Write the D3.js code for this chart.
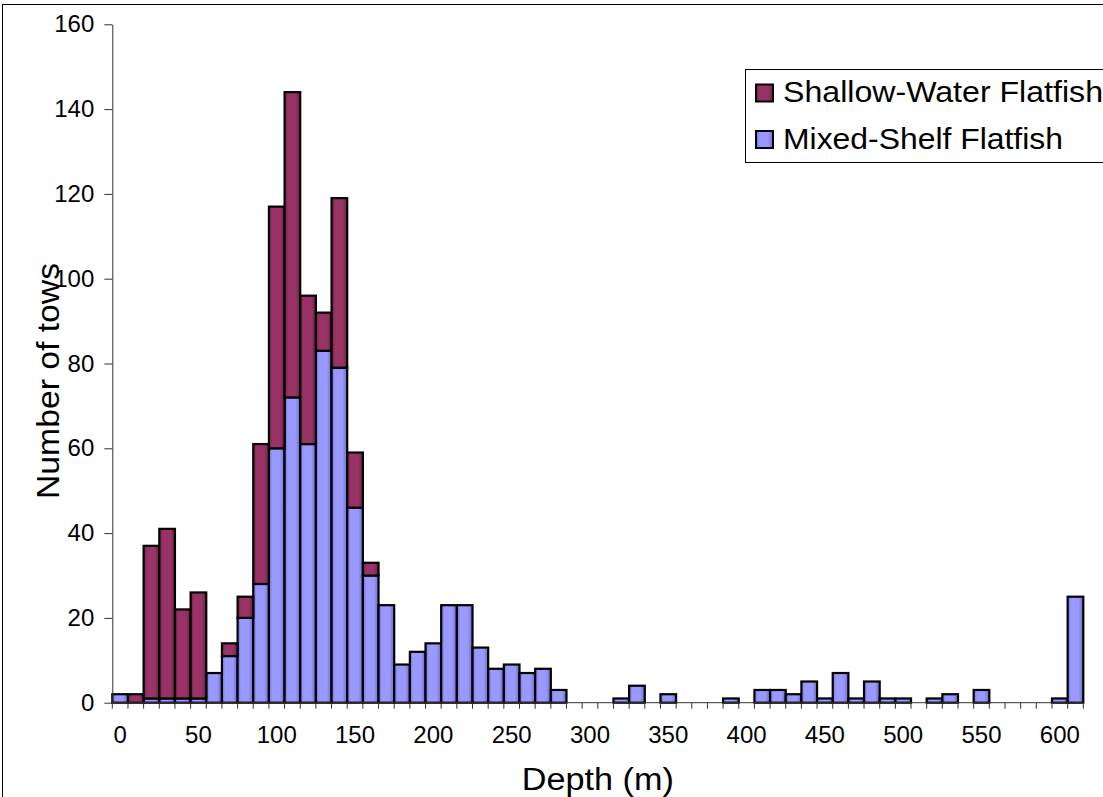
<!DOCTYPE html>
<html>
<head>
<meta charset="utf-8">
<script src="https://cdn.jsdelivr.net/npm/d3@7"></script>
<style>
  body { margin: 0; background: #fff; }
  svg text { font-family: Arial, "Liberation Sans", sans-serif; fill: #000; }
</style>
</head>
<body>
<div id="chart"></div>
<script>
// depth bins (m), 10 m wide
const depths = d3.range(0, 620, 10);
const mixedShelf = [2, 0, 1, 1, 1, 1, 7, 11, 20, 28, 60, 72, 61, 83, 79, 46, 30, 23, 9, 12, 14, 23, 23, 13, 8, 9, 7, 8, 3, 0,
    0, 0, 1, 4, 0, 2, 0, 0, 0, 1, 0, 3, 3, 2, 5, 1, 7, 1, 5, 1, 1, 0, 1, 2, 0, 3, 0, 0, 0, 0, 1, 25];
const shallowWater = [0, 2, 36, 40, 21, 25, 0, 3, 5, 33, 57, 72, 35, 9, 40, 13, 3, 0, 0, 0, 0, 0, 0, 0, 0, 0, 0, 0, 0, 0,
    0, 0, 0, 0, 0, 0, 0, 0, 0, 0, 0, 0, 0, 0, 0, 0, 0, 0, 0, 0, 0, 0, 0, 0, 0, 0, 0, 0, 0, 0, 0, 0];
const yTicks = [0, 20, 40, 60, 80, 100, 120, 140, 160];
const xLabels = [0, 50, 100, 150, 200, 250, 300, 350, 400, 450, 500, 550, 600];
const seriesNames = ['Shallow-Water Flatfish', 'Mixed-Shelf Flatfish'];

const W = 1103, H = 797;
const pLeft = 112.3, pRight = 1083.3, pTop = 24.3, pBottom = 702.7;

const rows = depths.map((d, i) => ({depth: d, mixed: mixedShelf[i], shallow: shallowWater[i]}));

const svg = d3.select('#chart').append('svg')
    .attr('width', W)
    .attr('height', H);

const defs = svg.append('defs');
function shade(id, stops) {
    const g = defs.append('linearGradient').attr('id', id)
        .attr('x1', 0).attr('x2', 1).attr('y1', 0).attr('y2', 0);
    stops.forEach(s => g.append('stop').attr('offset', s[0]).attr('stop-color', s[1]));
}
shade('gShallow', [[0, '#6e2247'], [0.22, '#993366'], [0.7, '#993366'], [1, '#6a2245']]);
shade('gMixed', [[0, '#7373d4'], [0.22, '#9999ff'], [0.7, '#9999ff'], [1, '#6b6bc6']]);

// outer chart frame
svg.append('rect')
    .attr('x', 2.5).attr('y', 4.5)
    .attr('width', 1300).attr('height', 900)
    .attr('fill', 'none').attr('stroke', '#000').attr('stroke-width', 1);

const x = d3.scaleBand().domain(depths).range([pLeft, pRight]).padding(0);
const y = d3.scaleLinear().domain([0, 160]).range([pBottom, pTop]);

const stack = d3.stack().keys(['mixed', 'shallow'])(rows);
const fills = {mixed: 'url(#gMixed)', shallow: 'url(#gShallow)'};

svg.append('g').selectAll('g')
    .data(stack)
    .join('g')
    .attr('fill', s => fills[s.key])
    .selectAll('rect')
    .data(s => s.filter(d => d[1] - d[0] > 0))
    .join('rect')
    .attr('x', d => x(d.data.depth))
    .attr('y', d => y(d[1]))
    .attr('width', x.bandwidth())
    .attr('height', d => y(d[0]) - y(d[1]))
    .attr('stroke', '#000')
    .attr('stroke-width', 2.2);

// y axis
const yAxis = svg.append('g')
    .attr('transform', `translate(${pLeft},0)`)
    .call(d3.axisLeft(y).tickValues(yTicks).tickSize(8).tickPadding(10).tickSizeOuter(0));
yAxis.select('.domain').attr('stroke', '#333');
yAxis.selectAll('.tick line').attr('stroke', '#333');
yAxis.selectAll('.tick text').attr('font-size', 24).style('font-family', 'Arial, "Liberation Sans", sans-serif');

// x axis: ticks on bin boundaries, labels every 50 m
const xg = svg.append('g');
xg.append('line')
    .attr('x1', pLeft).attr('x2', pRight)
    .attr('y1', pBottom).attr('y2', pBottom)
    .attr('stroke', '#333');
xg.selectAll('line.tk')
    .data(depths.concat([620]))
    .join('line')
    .attr('class', 'tk')
    .attr('x1', d => d === 620 ? pRight : x(d))
    .attr('x2', d => d === 620 ? pRight : x(d))
    .attr('y1', pBottom).attr('y2', pBottom + 6)
    .attr('stroke', '#333');
xg.selectAll('text')
    .data(xLabels)
    .join('text')
    .attr('x', d => x(d) + x.bandwidth() / 2)
    .attr('y', 743)
    .attr('text-anchor', 'middle')
    .attr('font-size', 24)
    .text(d => d);

// axis titles
svg.append('text')
    .attr('x', (pLeft + pRight) / 2)
    .attr('y', 790)
    .attr('text-anchor', 'middle')
    .attr('font-size', 31)
    .attr('textLength', 152)
    .attr('lengthAdjust', 'spacingAndGlyphs')
    .text('Depth (m)');

svg.append('text')
    .attr('transform', `translate(59,381) rotate(-90)`)
    .attr('text-anchor', 'middle')
    .attr('font-size', 31)
    .attr('textLength', 236)
    .attr('lengthAdjust', 'spacingAndGlyphs')
    .text('Number of tows');

// legend
const legend = svg.append('g');
legend.append('rect')
    .attr('x', 745.5).attr('y', 69.5)
    .attr('width', 400).attr('height', 93)
    .attr('fill', '#fff').attr('stroke', '#000');
const items = [{name: seriesNames[0], fill: fills.shallow, base: 102, len: 320},
    {name: seriesNames[1], fill: fills.mixed, base: 148.5, len: 280}];
const li = legend.selectAll('g.item').data(items).join('g').attr('class', 'item');
li.append('rect')
    .attr('x', 756).attr('y', d => d.base - 17.5)
    .attr('width', 17).attr('height', 17)
    .attr('fill', d => d.fill)
    .attr('stroke', '#000').attr('stroke-width', 2);
li.append('text')
    .attr('x', 783).attr('y', d => d.base)
    .attr('font-size', 30)
    .attr('textLength', d => d.len)
    .attr('lengthAdjust', 'spacingAndGlyphs')
    .text(d => d.name);
</script>
</body>
</html>
